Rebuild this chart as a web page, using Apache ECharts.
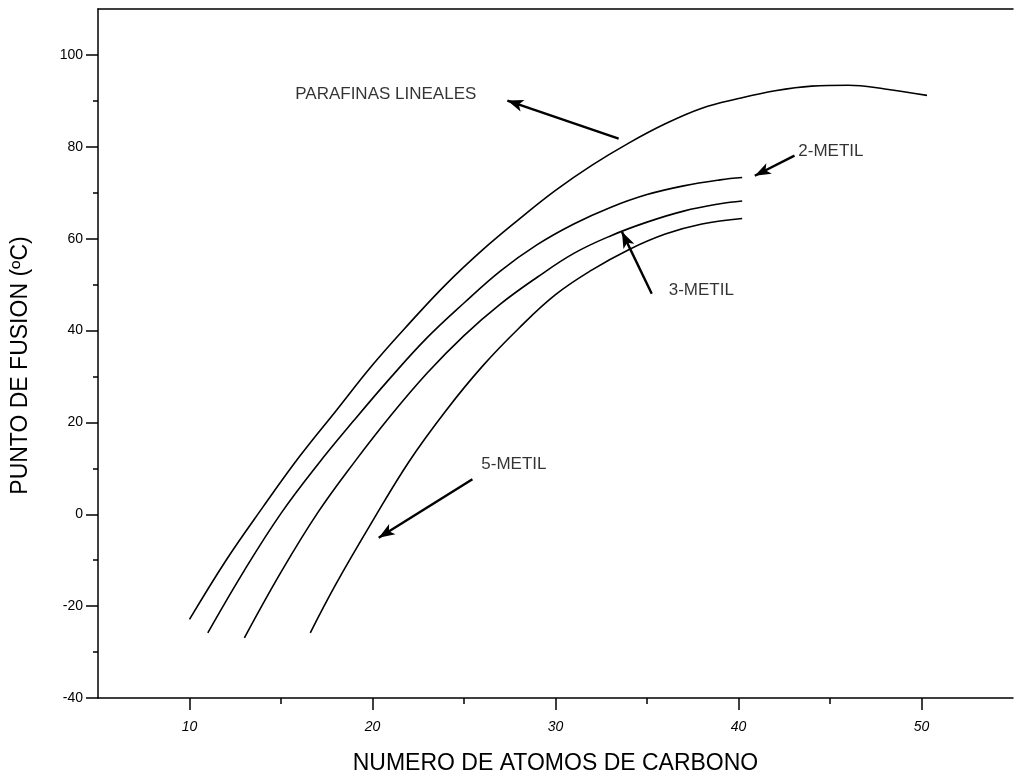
<!DOCTYPE html>
<html>
<head>
<meta charset="utf-8">
<script src="https://cdn.jsdelivr.net/npm/echarts@6/dist/echarts.min.js"></script>
<style>
html,body{margin:0;padding:0;background:#fff;}
#c{width:1014px;height:775px;}
</style>
</head>
<body>
<div id="c"></div>
<script>
// ---- data ----
const parafinasLineales = [[10,-22.9],[12,-10],[14,1.5],[16,12.5],[18,22.5],[20,32.5],[22,41.5],[24,50],[26,57.5],[28,64.2],[30,70.5],[32,76],[34,80.8],[36,85],[38,88.4],[40,90.5],[42,92.2],[44,93.2],[46,93.4],[48,92.6],[50.3,91.2]];
const metil2 = [[11,-25.8],[13,-12.2],[15,0.2],[17,10.8],[19,20.5],[21,29.8],[23,38.5],[25,46],[27,53],[29,58.7],[31,63.2],[33,66.8],[35,69.6],[37,71.5],[39,72.8],[40.2,73.3]];
const metil3 = [[13,-26.9],[15,-12.6],[17,0.3],[19,11.3],[21,21.5],[23,30.8],[25,38.9],[27,45.8],[29,51.6],[31,56.8],[33,60.6],[35,63.6],[37,66.0],[39,67.6],[40.2,68.2]];
const metil5 = [[16.6,-25.8],[18,-15.2],[20,-1.5],[22,11.5],[24,22.5],[26,32.2],[28,40.5],[30,47.8],[32,53.2],[34,57.6],[36,61.0],[38,63.2],[40.2,64.4]];

const xMajorTicks = [10,20,30,40,50];
const xMinorTicks = [15,25,35,45];
const yMajorTicks = [-40,-20,0,20,40,60,80,100];
const yMinorTicks = [-30,-10,10,30,50,70,90];

const annotationLabels = ['PARAFINAS LINEALES','2-METIL','3-METIL','5-METIL'];
const annotationLabelPos = [[15.75,91.5],[43.24,79.1],[36.16,48.67],[25.92,10.9]];
const arrowTails = [[33.45,81.8],[43.06,78.07],[35.26,48.0],[25.46,7.64]];
const arrowHeads = [[27.37,90.07],[40.89,73.7],[33.63,61.48],[20.34,-5.09]];

// ---- chart ----
const FONT = '"Liberation Sans", Arial, sans-serif';
const chart = echarts.init(document.getElementById('c'));

function curve(name, data){
  return {
    name, type:'line', data, smooth:0.4, symbol:'none',
    xAxisIndex:0, yAxisIndex:0,
    lineStyle:{color:'#000', width:1.6}, silent:true
  };
}

const option = {
  animation:false,
  backgroundColor:'#fff',
  grid:{left:98, right:1, top:9, bottom:77, containLabel:false, outerBoundsMode:'none'},
  xAxis:[
    {type:'value', min:5, max:55, position:'bottom',
     axisLine:{show:true, onZero:false, lineStyle:{color:'#000', width:1.5}},
     axisTick:{show:true, customValues:xMajorTicks, length:12, inside:false, lineStyle:{color:'#000', width:1.5}},
     axisLabel:{show:true, customValues:xMajorTicks, margin:22, color:'#000', fontSize:14, fontStyle:'italic', fontFamily:FONT},
     splitLine:{show:false},
     name:'NUMERO DE ATOMOS DE CARBONO', nameLocation:'middle', nameGap:54,
     nameTextStyle:{color:'#000', fontSize:23, fontFamily:FONT}
    },
    {type:'value', min:5, max:55, position:'bottom',
     axisLine:{show:false, onZero:false},
     axisTick:{show:true, customValues:xMinorTicks, length:6, lineStyle:{color:'#000', width:1.5}},
     axisLabel:{show:false}, splitLine:{show:false}
    },
    {type:'value', min:5, max:55, position:'top',
     axisLine:{show:true, onZero:false, lineStyle:{color:'#000', width:1.5}},
     axisTick:{show:false}, axisLabel:{show:false}, splitLine:{show:false}
    }
  ],
  yAxis:[
    {type:'value', min:-40, max:110, position:'left',
     axisLine:{show:true, onZero:false, lineStyle:{color:'#000', width:1.5}},
     axisTick:{show:true, customValues:yMajorTicks, length:12, lineStyle:{color:'#000', width:1.5}},
     axisLabel:{show:true, customValues:yMajorTicks, margin:15, color:'#000', fontSize:14, fontFamily:FONT},
     splitLine:{show:false},
     name:'PUNTO DE FUSION (ºC)', nameLocation:'middle', nameGap:66, nameRotate:90,
     nameTextStyle:{color:'#000', fontSize:23, fontFamily:FONT, padding:[0,24,0,0]}
    },
    {type:'value', min:-40, max:110, position:'left',
     axisLine:{show:false, onZero:false},
     axisTick:{show:true, customValues:yMinorTicks, length:5, lineStyle:{color:'#000', width:1.5}},
     axisLabel:{show:false}, splitLine:{show:false}
    }
  ],
  series:[
    curve('PARAFINAS LINEALES', parafinasLineales),
    curve('2-METIL', metil2),
    curve('3-METIL', metil3),
    curve('5-METIL', metil5),
    {
      name:'anotaciones', type:'scatter', xAxisIndex:0, yAxisIndex:0,
      symbolSize:1, itemStyle:{color:'rgba(0,0,0,0)'}, silent:true,
      data: annotationLabels.map((t,i)=>({name:t, value:annotationLabelPos[i]})),
      label:{show:true, position:'right', distance:0, formatter:p=>p.name,
             color:'#000', fontSize:17, fontFamily:FONT},
      markLine:{
        silent:true, animation:false,
        symbol:['none','arrow'],
        lineStyle:{color:'#000', width:2.4, type:'solid'},
        label:{show:false},
        data: arrowTails.map((t,i)=>[
          {coord:t, symbol:'none'},
          {coord:arrowHeads[i], symbol:'arrow', symbolSize:[9,16]}
        ])
      }
    }
  ]
};
chart.setOption(option);
</script>
</body>
</html>
